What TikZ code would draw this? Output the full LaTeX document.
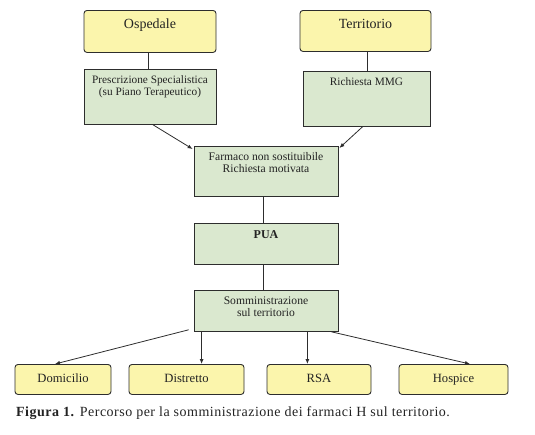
\documentclass[tikz,border=0pt]{standalone}
\usepackage{fontspec}
\setmainfont{Liberation Serif}
\usetikzlibrary{arrows.meta,positioning}
\definecolor{percyellow}{RGB}{251,245,172}
\definecolor{percgreen}{RGB}{218,232,207}
\definecolor{percline}{RGB}{45,45,45}
\definecolor{perctext}{RGB}{35,35,35}
\tikzset{
  ybox/.style={draw=percline, fill=percyellow, rounded corners=3pt, line width=0.9pt,
    anchor=north, inner xsep=2pt, inner ysep=0pt, align=center, text=perctext},
  gbox/.style={draw=percline, fill=percgreen, line width=0.8pt,
    anchor=north, inner xsep=2pt, inner ysep=0pt, align=center, text=perctext,
    font=\fontsize{11.3}{12}\selectfont},
  lnk/.style={line width=0.8pt, percline},
  arr/.style={-{Latex[length=5pt,width=4pt]}, line width=0.8pt, percline}
}

\begin{document}
\begin{tikzpicture}[x=1pt,y=-1pt]
  \useasboundingbox (0,0) rectangle (535,434);
  % sorgenti
  \node[ybox,minimum width=132pt,text height=18.5pt,text depth=23.5pt,font=\fontsize{14}{16}\selectfont] (osp) at (150,10) {Ospedale};
  \node[ybox,minimum width=131pt,text height=18pt,text depth=23pt,font=\fontsize{14}{16}\selectfont] (terr) at (365.5,10) {Territorio};
  \node[gbox,minimum width=132pt,text height=26pt,text depth=29pt] (presc) at (150,69) {Prescrizione Specialistica\\(su Piano Terapeutico)};
  \node[gbox,minimum width=127pt,text height=14pt,text depth=41pt] (mmg) at (366.5,71) {Richiesta MMG};
  % percorso centrale
  \node[gbox,minimum width=144pt,text height=26pt,text depth=24pt,font=\fontsize{11.6}{12}\selectfont] (farm) at (266,146) {Farmaco non sostituibile\\Richiesta motivata};
  \node[gbox,minimum width=144pt,text height=15pt,text depth=26pt,font=\fontsize{12}{13}\bfseries] (pua) at (266,223) {PUA};
  \node[gbox,minimum width=144pt,text height=26pt,text depth=15pt,font=\fontsize{11.6}{12}\selectfont] (somm) at (266,290) {Somministrazione\\sul territorio};
  % destinazioni
  \node[ybox,minimum width=96pt,text height=18pt,text depth=12pt,font=\fontsize{12.6}{14}\selectfont] (dom) at (63,364) {Domicilio};
  \node[ybox,minimum width=115pt,text height=18pt,text depth=12pt,font=\fontsize{12.6}{14}\selectfont] (distr) at (186.5,364) {Distretto};
  \node[ybox,minimum width=104pt,text height=18pt,text depth=12pt,font=\fontsize{12.6}{14}\selectfont] (rsa) at (319,364) {RSA};
  \node[ybox,minimum width=109pt,text height=18pt,text depth=12pt,font=\fontsize{12.6}{14}\selectfont] (hosp) at (453.5,364) {Hospice};

  \draw[lnk] ([xshift=-2pt]osp.south) -- ([xshift=-2pt]osp.south |- presc.north);
  \draw[lnk] ([xshift=1.5pt]terr.south) -- ([xshift=1.5pt]terr.south |- mmg.north);
  \draw[arr] ([xshift=3pt]presc.south) -- ([xshift=-1pt,yshift=-3pt]farm.north west);
  \draw[arr] ([xshift=-4pt]mmg.south) -- ([xshift=1pt,yshift=-2pt]farm.north east);
  \draw[lnk] ([xshift=-3pt]farm.south) -- ([xshift=-3pt]farm.south |- pua.north);
  \draw[lnk] ([xshift=-3pt]pua.south) -- ([xshift=-3pt]pua.south |- somm.north);
  \draw[arr] ([xshift=-5pt,yshift=2pt]somm.south west) -- ([xshift=-8pt]dom.north);
  \draw[arr] ([xshift=8pt]somm.south west) -- ([xshift=8pt]somm.south west |- distr.north);
  \draw[arr] ([xshift=-31pt]somm.south east) -- ([xshift=-31pt]somm.south east |- rsa.north);
  \draw[arr] ([xshift=-7pt]somm.south east) -- ([xshift=16.5pt]hosp.north);

  \node[anchor=base west,inner sep=0pt,text=perctext,font=\fontsize{14}{16}\selectfont\addfontfeature{LetterSpace=3.5}] (cap) at (16,416) {\textbf{Figura 1.} Percorso per la somministrazione dei farmaci H sul territorio.};
\end{tikzpicture}
\end{document}
